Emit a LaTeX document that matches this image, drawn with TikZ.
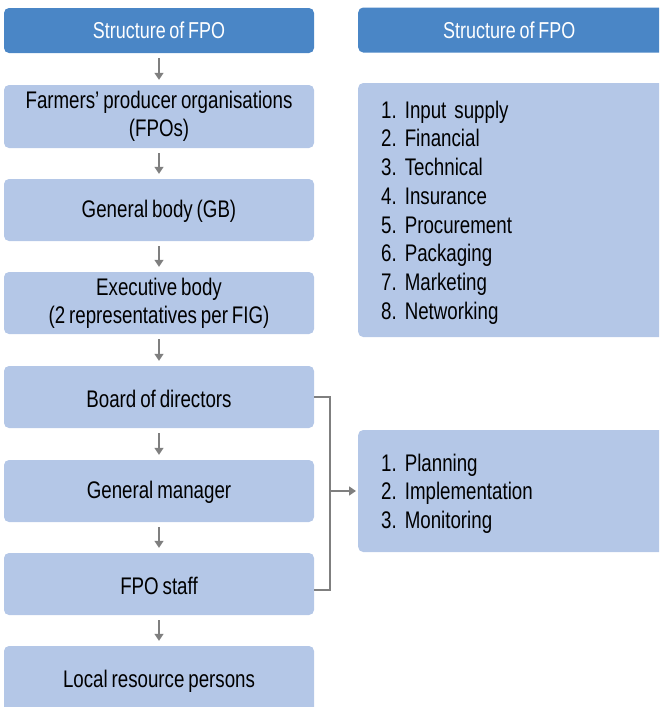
\documentclass[tikz,border=0pt]{standalone}
\usepackage{fontspec}
\setmainfont{Liberation Sans}[FakeStretch=0.78,WordSpace=0.75]
\usetikzlibrary{arrows.meta}
\definecolor{hdrblue}{HTML}{4A86C6}
\definecolor{boxblue}{HTML}{B4C7E7}
\definecolor{arrgray}{HTML}{7F7F7F}
\tikzset{
  hdr/.style={rectangle, rounded corners=5pt, fill=hdrblue, text=white, font=\fontsize{23}{27}\selectfont, minimum height=45pt, inner sep=0pt},
  lbox/.style={rectangle, rounded corners=5pt, fill=boxblue, text=black, font=\fontsize{24}{28}\selectfont, minimum width=310pt, align=center, inner sep=0pt},
  rbox/.style={rectangle, rounded corners=5pt, fill=boxblue, text=black, font=\fontsize{24}{28.7}\selectfont, anchor=west, align=left, text width=260pt, inner xsep=23pt, inner ysep=0pt},
  flow/.style={draw=arrgray, line width=1.5pt, -{Triangle[width=9pt,length=7pt]}},
  link/.style={draw=arrgray, line width=1.5pt}
}
\newcommand{\itemlist}[1]{\raisebox{-3pt}[\height][\depth]{\begin{tabular}{@{}l@{}}#1\end{tabular}}}
\newcommand{\lowr}[1]{\raisebox{-1.5pt}[\height][\depth]{#1}}
\frenchspacing
\begin{document}
\begin{tikzpicture}[x=1pt,y=-1pt]
\useasboundingbox (0,0) rectangle (659,707);
\clip (0,0) rectangle (659,707);
% left column
\node[hdr, minimum width=310pt] (h1) at (159,30.5) {Structure of FPO};
\node[lbox, minimum height=63pt] (b1) at (159,116.5) {Farmers’ producer organisations\\(FPOs)};
\node[lbox, minimum height=62pt] (b2) at (159,210) {\lowr{General body (GB)}};
\node[lbox, minimum height=62pt] (b3) at (159,303) {Executive body\\(2 representatives per FIG)};
\node[lbox, minimum height=62pt] (b4) at (159,397) {\lowr{Board of directors}};
\node[lbox, minimum height=62pt] (b5) at (159,491) {\lowr{General manager}};
\node[lbox, minimum height=62pt] (b6) at (159,584) {\lowr{FPO staff}};
\node[lbox, minimum height=70pt] (b7) at (159,681) {Local resource persons};
% right column
\node[hdr, minimum width=312pt, anchor=west] (h2) at (358,30) {\hspace*{-10pt}Structure of FPO};
\node[rbox, minimum height=254pt] (r1) at (358,210) {\itemlist{1. Input supply\\2. Financial\\3. Technical\\4. Insurance\\5. Procurement\\6. Packaging\\7. Marketing\\8. Networking}};
\node[rbox, minimum height=122pt] (r2) at (358,491) {\itemlist{1. Planning\\2. Implementation\\3. Monitoring}};
% arrows
\draw[flow, shorten <=5pt, shorten >=5pt] (h1.south) -- (b1.north);
\draw[flow, shorten <=5pt, shorten >=5pt] (b1.south) -- (b2.north);
\draw[flow, shorten <=5pt, shorten >=5pt] (b2.south) -- (b3.north);
\draw[flow, shorten <=5pt, shorten >=5pt] (b3.south) -- (b4.north);
\draw[flow, shorten <=5pt, shorten >=5pt] (b4.south) -- (b5.north);
\draw[flow, shorten <=5pt, shorten >=5pt] (b5.south) -- (b6.north);
\draw[flow, shorten <=5pt, shorten >=5pt] (b6.south) -- (b7.north);
% bracket connector
\coordinate (jn) at (330,491);
\draw[link] (b4.east) -- (330,397) -- (330,590) -- (b6.east |- 0,590);
\draw[flow, shorten >=2pt] (jn) -- (r2.west);
\end{tikzpicture}
\end{document}
